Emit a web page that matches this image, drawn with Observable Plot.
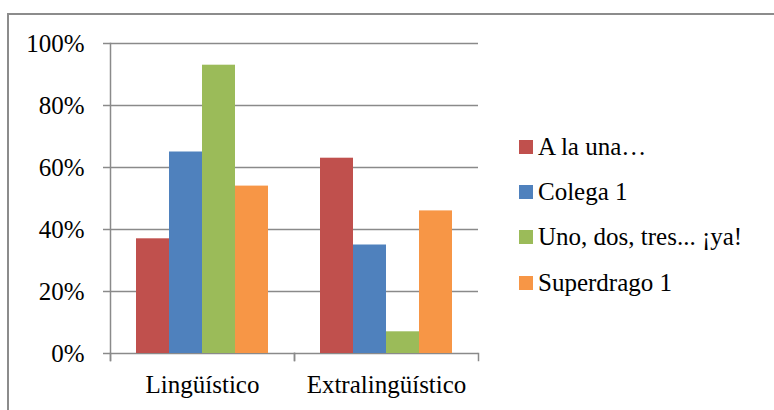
<!DOCTYPE html>
<html>
<head>
<meta charset="utf-8">
<script src="https://cdn.jsdelivr.net/npm/d3@7"></script>
<script src="https://cdn.jsdelivr.net/npm/@observablehq/plot@0.6"></script>
<style>
  html, body { margin: 0; padding: 0; background: #fff; }
  #wrap { position: relative; width: 774px; height: 410px; overflow: hidden; background: #fff;
          font-family: "Liberation Serif", "Times New Roman", serif; }
  #frame { position: absolute; left: 7px; top: 13px; width: 900px; height: 600px;
           border: 2px solid #8c8c8c; box-sizing: border-box; }
  #chart { position: absolute; left: 0; top: 0; }
  #legend { position: absolute; left: 519px; top: 124px; }
  .row { display: flex; align-items: center; height: 45.3px; font-size: 25px; color: #000; white-space: nowrap;
         font-family: "Liberation Serif", "Times New Roman", serif; }
  .sw { width: 14px; height: 14px; margin-right: 5px; flex: none; }
</style>
</head>
<body>
<div id="wrap">
  <div id="frame"></div>
  <div id="chart"></div>
  <div id="legend"></div>
</div>
<script>
const categories = ["Lingüístico", "Extralingüístico"];
const series = ["A la una…", "Colega 1", "Uno, dos, tres... ¡ya!", "Superdrago 1"];
const linguistico = [0.37, 0.65, 0.93, 0.54];
const extralinguistico = [0.63, 0.35, 0.07, 0.46];
const yTicks = [0, 0.2, 0.4, 0.6, 0.8, 1];
const colors = ["#C0504D", "#4F81BD", "#9BBB59", "#F79646"];

const valuesByCategory = [linguistico, extralinguistico];
const data = [];
categories.forEach((c, i) => series.forEach((s, j) => data.push({cat: c, series: s, value: valuesByCategory[i][j]})));

const W = 774, H = 410, mL = 109, mR = 296, mT = 43, mB = 57;
const grey = "#8a8a8a";
const plotH = H - mT - mB;
const serif = "Liberation Serif, Times New Roman, serif";

const chart = Plot.plot({
  width: W, height: H,
  marginLeft: mL, marginRight: mR, marginTop: mT, marginBottom: mB,
  style: {fontFamily: serif, fontSize: "25px", color: "#000", background: "transparent", overflow: "visible"},
  fx: {domain: categories, padding: 0, label: null},
  x: {domain: series, paddingInner: 0, paddingOuter: 0.745, axis: null},
  y: {domain: [0, 1], label: null},
  color: {domain: series, range: colors},
  marks: [
    Plot.gridY(yTicks, {stroke: grey, strokeOpacity: 1, strokeWidth: 1.5}),
    Plot.barY(data, {fx: "cat", x: "series", y: "value", fill: "series"}),
    Plot.frame({anchor: "left", facetAnchor: "left", insetBottom: -7, stroke: grey, strokeWidth: 1.5}),
    Plot.frame({anchor: "left", insetTop: plotH, insetBottom: -7, stroke: grey, strokeWidth: 1.5}),
    Plot.frame({anchor: "right", insetTop: plotH, insetBottom: -7, stroke: grey, strokeWidth: 1.5}),
    Plot.axisY({ticks: yTicks, tickSize: 7, tickPadding: 19, tickFormat: d3.format(".0%"), label: null,
                stroke: grey, strokeWidth: 1.5, fill: "#000", fontSize: 25, fontFamily: serif, fontVariant: "normal"}),
    Plot.axisFx({anchor: "bottom", tickSize: 0, tickPadding: 22, label: null, fill: "#000", fontSize: 25, fontFamily: serif})
  ]
});
document.getElementById("chart").appendChild(chart);

const legend = d3.select("#legend");
series.forEach((s, i) => {
  const row = legend.append("div").attr("class", "row");
  row.append("div").attr("class", "sw").style("background", colors[i]);
  row.append("span").text(s);
});
</script>
</body>
</html>
